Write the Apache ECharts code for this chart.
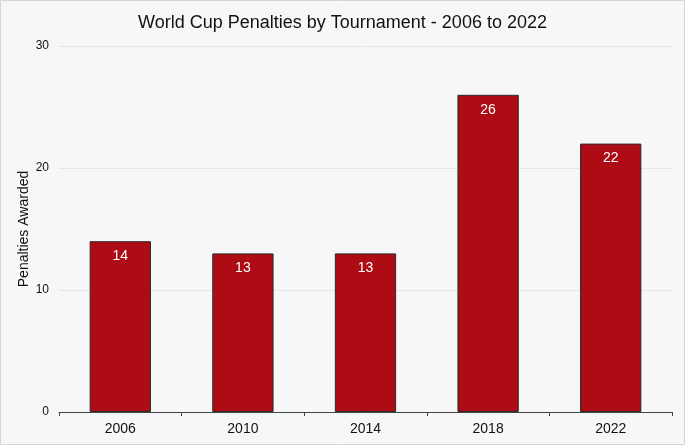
<!DOCTYPE html>
<html><head><meta charset="utf-8">
<script src="https://cdn.jsdelivr.net/npm/echarts@6/dist/echarts.min.js"></script>
<style>html,body{margin:0;padding:0;background:#f7f7f7}#c{width:685px;height:445px}</style>
</head><body><div id="c"></div>
<script>
const categories = ['2006','2010','2014','2018','2022'];
const penalties = [14, 13, 13, 26, 22];
const yTicks = [0, 10, 20, 30];

const chart = echarts.init(document.getElementById('c'), null, {renderer:'canvas'});
chart.setOption({
  backgroundColor: '#f7f7f7',
  animation: false,
  textStyle: {fontFamily: 'Liberation Sans, Arial, sans-serif'},
  title: {
    text: 'World Cup Penalties by Tournament - 2006 to 2022',
    left: 'center', top: 9,
    textStyle: {fontSize: 18, fontWeight: 'normal', color: '#111', fontFamily: 'Liberation Sans, Arial, sans-serif'}
  },
  graphic: [{type:'rect', shape:{x:0.5,y:0.5,width:684,height:444}, style:{fill:'none', stroke:'#d6d6d6', lineWidth:1}, silent:true}],
  grid: {left: 59, right: 13, top: 46, bottom: 33, containLabel: false},
  xAxis: {
    type: 'category', data: categories,
    axisLine: {show: true, lineStyle: {color: '#444', width: 1}},
    axisTick: {show: true, length: 4, lineStyle: {color: '#444'}},
    axisLabel: {color: '#111', fontSize: 14, margin: 10}
  },
  yAxis: {
    type: 'value', min: yTicks[0], max: yTicks[yTicks.length-1], interval: 10,
    name: 'Penalties Awarded', nameLocation: 'middle', nameGap: 28, nameMoveOverlap: false,
    nameTextStyle: {color: '#111', fontSize: 14},
    axisLine: {show: false}, axisTick: {show: false},
    axisLabel: {color: '#111', fontSize: 12, margin: 10},
    splitLine: {lineStyle: {color: '#e6e6e6', width: 1}}
  },
  series: [{
    type: 'bar', data: penalties, barWidth: '50%',
    itemStyle: {color: '#ad0c15', borderColor: '#2a2a2a', borderWidth: 1},
    label: {show: true, position: 'insideTop', distance: 8, color: '#fff', fontSize: 14}
  }]
});
</script></body></html>
